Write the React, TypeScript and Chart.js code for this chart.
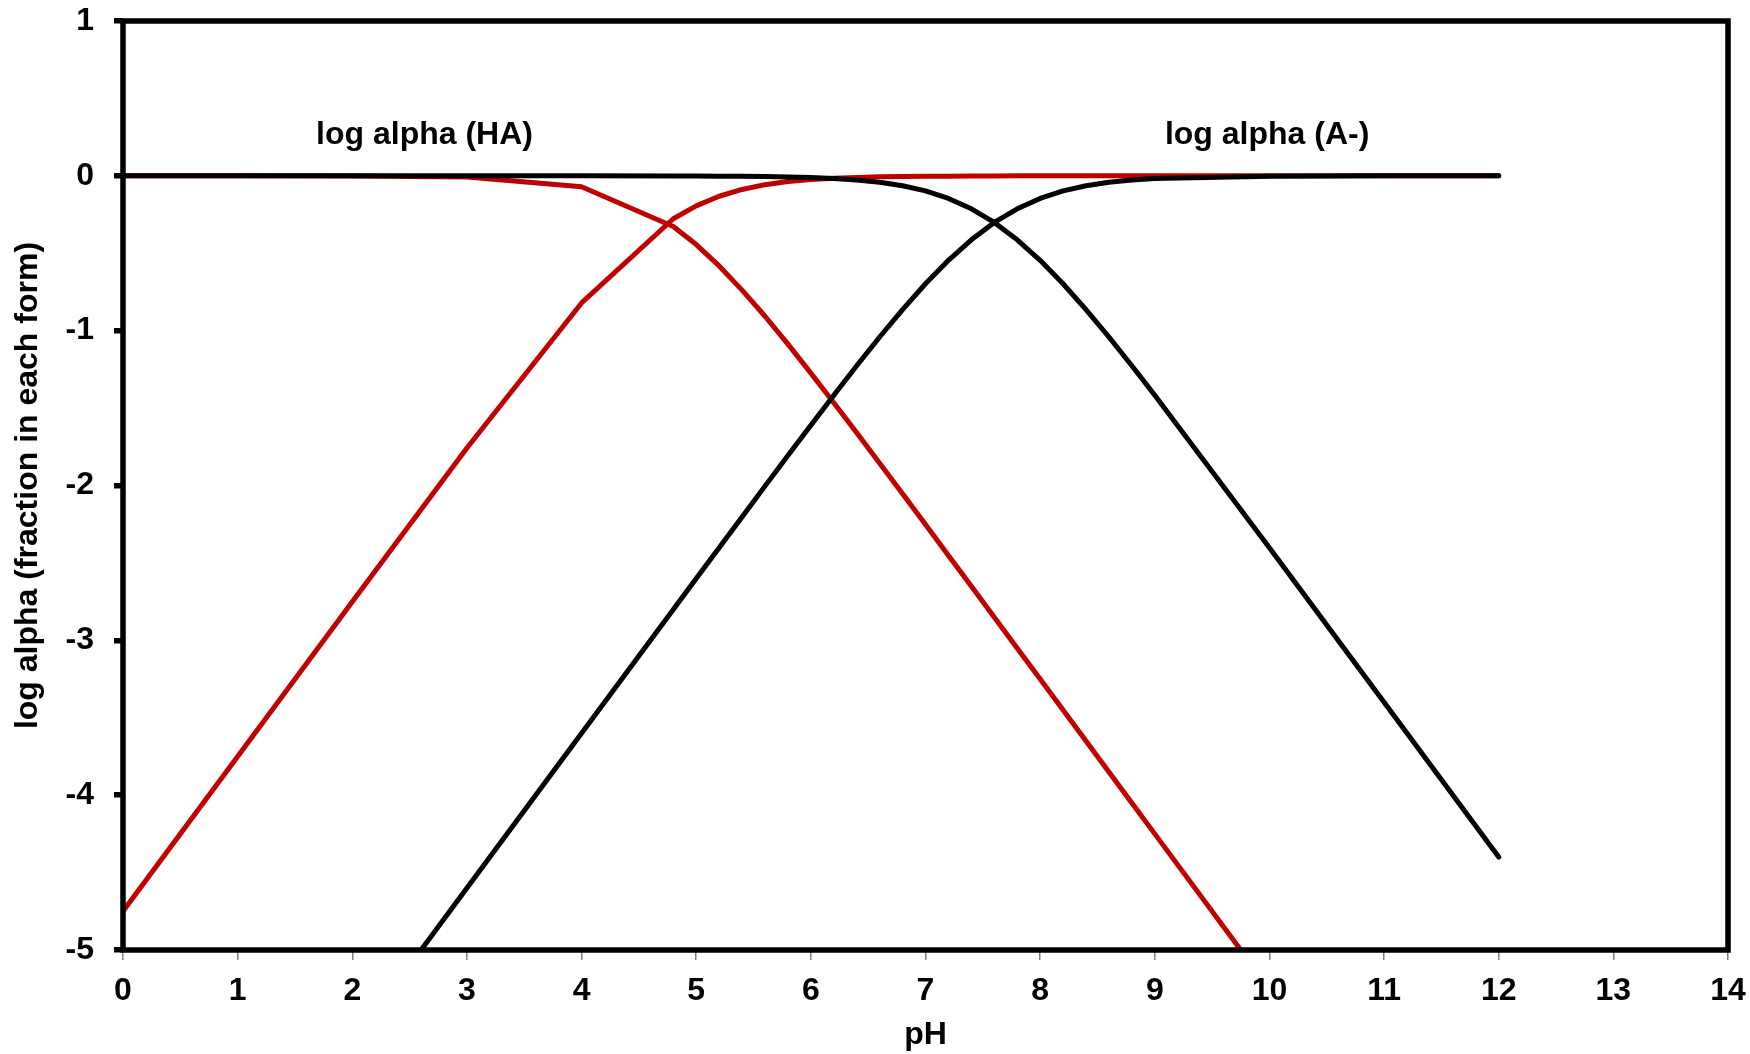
import React, { useEffect, useRef } from "react";
import { Chart, registerables } from "chart.js";

Chart.register(...registerables);

const pH = [0, 1, 2, 3, 4, 4.8, 5, 5.2, 5.4, 5.6, 5.8, 6, 6.2, 6.4, 6.6, 6.8, 7, 7.2, 7.4, 7.6, 7.8, 8, 8.2, 8.4, 8.6, 8.8, 9, 10, 11, 12];

// acid 1 (red)
const redHA = [0, 0, -0.001, -0.008, -0.071, -0.327, -0.444, -0.582, -0.738, -0.907, -1.087, -1.274, -1.465, -1.66, -1.856, -2.054, -2.252, -2.452, -2.651, -2.851, -3.051, -3.25, -3.45, -3.65, -3.85, -4.05, -4.25, -5.25, -6.25, -7.25];
const redA = [-4.75, -3.75, -2.751, -1.758, -0.821, -0.277, -0.194, -0.132, -0.088, -0.057, -0.037, -0.024, -0.015, -0.01, -0.006, -0.004, -0.002, -0.002, -0.001, -0.001, 0, 0, 0, 0, 0, 0, 0, 0, 0, 0];

// acid 2 (black)
const blackHA = [0, 0, 0, 0, 0, -0.001, -0.001, -0.002, -0.003, -0.004, -0.007, -0.011, -0.017, -0.027, -0.041, -0.064, -0.097, -0.146, -0.213, -0.301, -0.413, -0.546, -0.697, -0.864, -1.041, -1.227, -1.417, -2.402, -3.4, -4.4];
const blackA = [-7.6, -6.6, -5.6, -4.6, -3.6, -2.801, -2.601, -2.402, -2.203, -2.004, -1.807, -1.611, -1.417, -1.227, -1.041, -0.864, -0.697, -0.546, -0.413, -0.301, -0.213, -0.146, -0.097, -0.064, -0.041, -0.027, -0.017, -0.002, 0, 0];

const xTicks = [0, 1, 2, 3, 4, 5, 6, 7, 8, 9, 10, 11, 12, 13, 14];
const yTicks = [-5, -4, -3, -2, -1, 0, 1];

const labelTexts = ["log alpha (HA)", "log alpha (A-)"];
const labelX = [2.63, 9.98];
const labelY = [0.26, 0.26];

const FONT = "'Liberation Sans', Arial, sans-serif";
const RED = "#C00000";
const FS = 32;

export default function App() {
  const ref = useRef<HTMLCanvasElement | null>(null);

  useEffect(() => {
    if (!ref.current) return;
    const mk = (arr: number[]) => pH.map((x, i) => ({ x, y: arr[i] }));

    const framePlugin = {
      id: "frame",
      afterDatasetsDraw(chart: any) {
        const { ctx, chartArea } = chart;
        ctx.save();
        ctx.strokeStyle = "#000";
        ctx.lineWidth = 5.5;
        ctx.strokeRect(chartArea.left, chartArea.top, chartArea.right - chartArea.left, chartArea.bottom - chartArea.top);
        const xs = chart.scales.x;
        const ys = chart.scales.y;
        ctx.fillStyle = "#000";
        ctx.font = `bold ${FS}px ${FONT}`;
        ctx.textAlign = "center";
        ctx.textBaseline = "middle";
        labelTexts.forEach((t, i) => {
          ctx.fillText(t, xs.getPixelForValue(labelX[i]), ys.getPixelForValue(labelY[i]));
        });
        ctx.restore();
      },
    };

    const ds = (data: number[], color: string) => ({
      data: mk(data),
      borderColor: color,
      backgroundColor: color,
      borderWidth: 5,
      pointRadius: 0,
      tension: 0,
      borderCapStyle: "round" as const,
      borderJoinStyle: "round" as const,
      clip: 0,
    });

    const chart = new Chart(ref.current, {
      type: "line",
      data: {
        datasets: [ds(blackHA, "#000"), ds(blackA, "#000"), ds(redHA, RED), ds(redA, RED)],
      },
      plugins: [framePlugin],
      options: {
        responsive: false,
        animation: false,
        layout: { padding: { top: 21, right: 22, left: 0, bottom: 0 } },
        plugins: { legend: { display: false }, tooltip: { enabled: false } },
        scales: {
          x: {
            type: "linear",
            min: 0,
            max: 14,
            afterBuildTicks: (s: any) => { s.ticks = xTicks.map((v) => ({ value: v })); },
            afterFit: (s: any) => { s.height = 104; s.paddingLeft = 0; s.paddingRight = 0; },
            grid: { display: true, drawOnChartArea: false, drawTicks: true, tickLength: 10, color: "#808080", lineWidth: 1.5 },
            border: { display: false },
            ticks: { color: "#000", font: { family: FONT, size: FS, weight: "bold" }, padding: 12, maxRotation: 0, autoSkip: false, callback: (v: any) => String(v) },
            title: { display: true, text: "pH", color: "#000", font: { family: FONT, size: FS, weight: "bold" }, padding: { top: 0, bottom: 0 } },
          },
          y: {
            type: "linear",
            min: -5,
            max: 1,
            afterBuildTicks: (s: any) => { s.ticks = yTicks.map((v) => ({ value: v })); },
            afterFit: (s: any) => { s.width = 123; s.paddingTop = 0; s.paddingBottom = 0; },
            grid: { display: true, drawOnChartArea: false, drawTicks: true, tickLength: 9, color: "#000", lineWidth: 5.5 },
            border: { display: false },
            ticks: { color: "#000", font: { family: FONT, size: FS, weight: "bold" }, padding: 20, autoSkip: false, callback: (v: any) => String(v) },
            title: { display: true, text: "log alpha (fraction in each form)", color: "#000", font: { family: FONT, size: FS, weight: "bold" }, padding: { top: 9, bottom: 0 } },
          },
        },
      },
    } as any);
    return () => chart.destroy();
  }, []);

  return (
    <div style={{ position: "absolute", left: 0, top: 0, width: 1750, height: 1054, background: "#fff" }}>
      <canvas ref={ref} width={1750} height={1054} style={{ display: "block" }} />
    </div>
  );
}
